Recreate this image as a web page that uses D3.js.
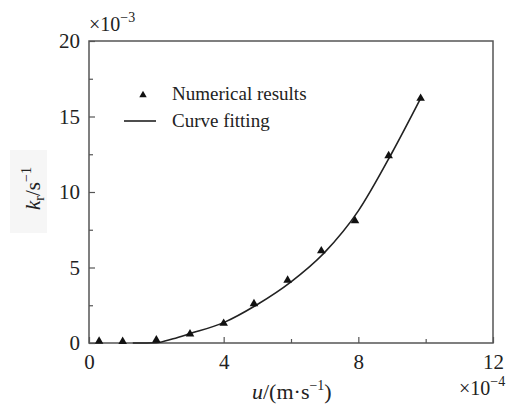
<!DOCTYPE html>
<html><head><meta charset="utf-8">
<script src="https://cdn.jsdelivr.net/npm/d3@7"></script>
<style>body{margin:0;background:#fff}svg{display:block}svg text{font-family:'Liberation Serif','Times New Roman',Times,serif !important;fill:#222}</style>
</head><body><svg id="c" width="514" height="410"></svg>
<script>
// Numerical results (u in 1e-4 m/s, k_r in 1e-3 1/s)
const uPoints = [0.3, 1.0, 2.0, 3.0, 4.0, 4.9, 5.9, 6.9, 7.9, 8.9, 9.85];
const krPoints = [0.12, 0.1, 0.2, 0.6, 1.3, 2.6, 4.15, 6.1, 8.1, 12.4, 16.2];
// Curve fitting
const uFit = [1.3, 2.0, 2.5, 3.0, 4.0, 5.0, 6.0, 7.0, 8.0, 9.0, 9.85];
const krFit = [0, 0.02, 0.28, 0.62, 1.35, 2.55, 4.05, 6.0, 8.75, 12.6, 16.2];
const xTicks = [0, 4, 8, 12];
const yTicks = [0, 5, 10, 15, 20];
const xMinor = [2, 6, 10];
const yMinor = [2.5, 7.5, 12.5, 17.5];

const svg = d3.select("#c");
const L = 89, R = 493, T = 41, B = 343;
const x = d3.scaleLinear().domain([0, 12]).range([L, R]);
const y = d3.scaleLinear().domain([0, 20]).range([B, T]);
const axisColor = "#555";
const FONT = "'Liberation Serif','Times New Roman',Times,serif";

// y label background
svg.append("rect").attr("x", 10).attr("y", 150).attr("width", 37).attr("height", 83).attr("fill", "#f6f6f6");

// frame
svg.append("rect").attr("x", L).attr("y", T).attr("width", R - L).attr("height", B - T)
  .attr("fill", "none").attr("stroke", axisColor).attr("stroke-width", 1.5);

function styleAxis(g) {
  g.attr("font-family", FONT);
  g.select(".domain").remove();
  g.selectAll("line").attr("stroke", axisColor).attr("stroke-width", 1.2);
  g.selectAll("text").attr("font-size", 21).attr("fill", "#222");
}

// x axis ticks (inward)
svg.append("g").attr("transform", `translate(0,${B})`)
  .call(d3.axisBottom(x).tickValues(xTicks).tickSizeInner(-6).tickSizeOuter(0).tickPadding(11).tickFormat(d3.format("d")))
  .call(styleAxis);
svg.append("g").attr("transform", `translate(0,${B})`)
  .call(d3.axisBottom(x).tickValues(xMinor).tickSizeInner(-4).tickSizeOuter(0).tickFormat(""))
  .call(styleAxis);

// y axis ticks (inward)
svg.append("g").attr("transform", `translate(${L},0)`)
  .call(d3.axisLeft(y).tickValues(yTicks).tickSizeInner(-6).tickSizeOuter(0).tickPadding(9).tickFormat(d3.format("d")))
  .call(styleAxis);
svg.append("g").attr("transform", `translate(${L},0)`)
  .call(d3.axisLeft(y).tickValues(yMinor).tickSizeInner(-4).tickSizeOuter(0).tickFormat(""))
  .call(styleAxis);

// multipliers
const m1 = svg.append("text").attr("x", 89).attr("y", 31).attr("font-size", 20);
m1.append("tspan").text("×10");
m1.append("tspan").attr("dy", -9).attr("font-size", 14).text("−3");
const m2 = svg.append("text").attr("x", 459).attr("y", 395).attr("font-size", 20);
m2.append("tspan").text("×10");
m2.append("tspan").attr("dy", -9).attr("font-size", 14).text("−4");

// axis titles
const xl = svg.append("text").attr("x", 252).attr("y", 399).attr("font-size", 22);
xl.append("tspan").attr("font-style", "italic").text("u");
xl.append("tspan").text("/(m·s");
xl.append("tspan").attr("dy", -9).attr("font-size", 14).text("−1");
xl.append("tspan").attr("dy", 9).text(")");

const yl = svg.append("text").attr("transform", "translate(40,210) rotate(-90)").attr("font-size", 21);
yl.append("tspan").attr("font-style", "italic").text("k");
yl.append("tspan").attr("dy", 4).attr("font-size", 14).text("r");
yl.append("tspan").attr("dy", -4).text("/s");
yl.append("tspan").attr("dy", -9).attr("font-size", 14).text("−1");

// fitted curve
const line = d3.line().x((d, i) => x(uFit[i])).y((d, i) => y(krFit[i])).curve(d3.curveMonotoneX);
svg.append("path").attr("d", line(uFit)).attr("fill", "none").attr("stroke", "#222").attr("stroke-width", 1.6);

// points
const tri = d3.symbol().type(d3.symbolTriangle).size(32);
svg.selectAll(".pt").data(uPoints).join("path").attr("class", "pt")
  .attr("d", tri).attr("transform", (d, i) => `translate(${x(d)},${y(krPoints[i])})`).attr("fill", "#111");

// legend
svg.append("path").attr("d", d3.symbol().type(d3.symbolTriangle).size(24)).attr("transform", "translate(143,95)").attr("fill", "#111");
svg.append("text").attr("x", 172).attr("y", 100).attr("font-size", 19).text("Numerical results");
svg.append("line").attr("x1", 124).attr("x2", 156).attr("y1", 121).attr("y2", 121).attr("stroke", "#222").attr("stroke-width", 1.6);
svg.append("text").attr("x", 172).attr("y", 127).attr("font-size", 19).text("Curve fitting");
</script></body></html>
